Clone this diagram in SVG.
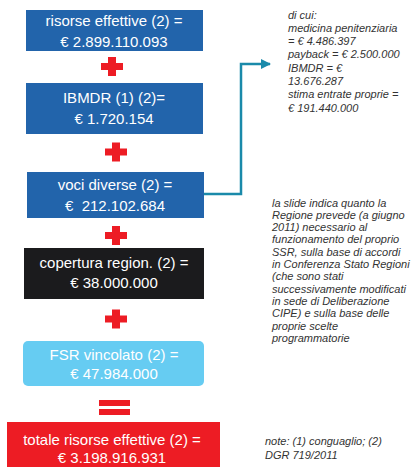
<svg xmlns="http://www.w3.org/2000/svg" width="412" height="467" viewBox="0 0 412 467">
<defs>
<style>
.bt{font-family:"Liberation Sans",Arial,sans-serif;font-size:15px;fill:#ffffff;text-anchor:middle}
.nt{font-family:"Liberation Sans",Arial,sans-serif;font-size:11px;font-style:italic;fill:#333333}
.blue{fill:#2264ab}
.plus{fill:#ed1c24}
.conn{fill:none;stroke:#1a8aaa;stroke-width:2.5}
</style>
<marker id="arr" viewBox="0 0 10 10" refX="9" refY="5" markerWidth="4" markerHeight="4" orient="auto" markerUnits="strokeWidth">
<path d="M0,0 L10,5 L0,10 Z" fill="#1a8aaa"/>
</marker>
<path id="plusShape" d="M-4,-9.5 H4 V-3.5 H11 V3.5 H4 V9.5 H-4 V3.5 H-11 V-3.5 H-4 Z"/>
</defs>
<rect width="412" height="467" fill="#ffffff"/>

<g id="connectors">
<polyline class="conn" points="204,194 241,194 241,64 270,64" marker-end="url(#arr)"/>
</g>

<g id="n1">
<rect class="blue" x="26" y="10" width="177" height="41"/>
<text class="bt" x="114" y="26">risorse effettive (2) =</text>
<text class="bt" x="114" y="47">€ 2.899.110.093</text>
</g>
<g id="plus1"><use href="#plusShape" class="plus" x="112" y="66.5"/></g>

<g id="n2">
<rect class="blue" x="26" y="83" width="177" height="51"/>
<text class="bt" x="114" y="103">IBMDR (1) (2)=</text>
<text class="bt" x="114" y="124">€ 1.720.154</text>
</g>
<g id="plus2"><use href="#plusShape" class="plus" x="116" y="152"/></g>

<g id="n3">
<rect class="blue" x="27" y="172" width="177" height="46"/>
<text class="bt" x="115" y="190">voci diverse (2) =</text>
<text class="bt" x="115" y="211">€&#160; 212.102.684</text>
</g>
<g id="plus3"><use href="#plusShape" class="plus" x="116" y="235.5"/></g>

<g id="n4">
<rect fill="#1b1b1d" x="24" y="248" width="180" height="51"/>
<text class="bt" x="114" y="268">copertura region. (2) =</text>
<text class="bt" x="114" y="288">€ 38.000.000</text>
</g>
<g id="plus4"><use href="#plusShape" class="plus" x="116" y="319"/></g>

<g id="n5">
<rect fill="#66ccf2" x="23" y="341" width="181" height="45" rx="5"/>
<text class="bt" x="114" y="360">FSR vincolato (2) =</text>
<text class="bt" x="114" y="379">€ 47.984.000</text>
</g>
<g id="equals">
<rect class="plus" x="99" y="400" width="31" height="6"/>
<rect class="plus" x="99" y="409" width="31" height="6"/>
</g>

<g id="n6">
<rect fill="#ed1c24" x="7" y="422" width="213" height="45"/>
<text class="bt" x="112" y="445">totale risorse effettive (2) =</text>
<text class="bt" x="112" y="463">€ 3.198.916.931</text>
</g>

<g id="note1">
<text class="nt" x="288" y="18.5">di cui:</text>
<text class="nt" x="288" y="31.8">medicina penitenziaria</text>
<text class="nt" x="288" y="45.1">= € 4.486.397</text>
<text class="nt" x="288" y="58.4">payback = € 2.500.000</text>
<text class="nt" x="288" y="71.7">IBMDR = €</text>
<text class="nt" x="288" y="85">13.676.287</text>
<text class="nt" x="288" y="98.3">stima entrate proprie =</text>
<text class="nt" x="288" y="111.6">€ 191.440.000</text>
</g>

<g id="note2">
<text class="nt" x="272" y="206.5">la slide indica quanto la</text>
<text class="nt" x="272" y="218.8">Regione prevede (a giugno</text>
<text class="nt" x="272" y="231.1">2011) necessario al</text>
<text class="nt" x="272" y="243.4">funzionamento del proprio</text>
<text class="nt" x="272" y="255.7">SSR, sulla base di accordi</text>
<text class="nt" x="272" y="268">in Conferenza Stato Regioni</text>
<text class="nt" x="272" y="280.3">(che sono stati</text>
<text class="nt" x="272" y="292.6">successivamente modificati</text>
<text class="nt" x="272" y="304.9">in sede di Deliberazione</text>
<text class="nt" x="272" y="317.2">CIPE) e sulla base delle</text>
<text class="nt" x="272" y="329.5">proprie scelte</text>
<text class="nt" x="272" y="341.8">programmatorie</text>
</g>

<g id="note3">
<text class="nt" x="265" y="445">note: (1) conguaglio; (2)</text>
<text class="nt" x="265" y="459">DGR 719/2011</text>
</g>
</svg>
